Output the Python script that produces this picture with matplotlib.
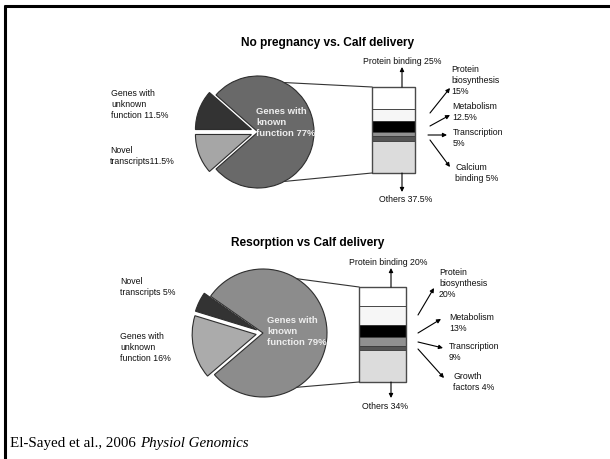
import numpy as np
import matplotlib.pyplot as plt
from matplotlib.patches import Rectangle

plt.rcParams['font.family'] = ['Liberation Sans', 'DejaVu Sans']

W, H = 610, 459

# No pregnancy vs. Calf delivery
top_title = "No pregnancy vs. Calf delivery"
top_pie_names = ["Genes with\nunknown\nfunction ", "Novel\ntranscripts", "Genes with\nknown\nfunction "]
top_pie_values = [11.5, 11.5, 77]
top_box_names = ["Protein binding ", "Protein\nbiosynthesis\n", "Metabolism\n",
                 "Transcription\n", "Calcium\nbinding ", "Others "]
top_box_values = [25, 15, 12.5, 5, 5, 37.5]

# Resorption vs Calf delivery
bot_title = "Resorption vs Calf delivery"
bot_pie_names = ["Novel\ntranscripts ", "Genes with\nunknown\nfunction ", "Genes with\nknown\nfunction "]
bot_pie_values = [5, 16, 79]
bot_box_names = ["Protein binding ", "Protein\nbiosynthesis\n", "Metabolism\n",
                 "Transcription\n", "Growth\nfactors ", "Others "]
bot_box_values = [20, 20, 13, 9, 4, 34]

box_colors = ['#ffffff', '#f6f6f6', '#000000', '#909090', '#555555', '#dcdcdc']

fig = plt.figure(figsize=(W / 100, H / 100), dpi=100)
ax = fig.add_axes([0, 0, 1, 1])

FS = 6.3


def pct(v):
    return f"{v:g}%"


def draw_pie(values, colors, start, center, r, gap=7):
    # y axis is flipped, so go clockwise in data to run counter-clockwise on screen;
    # explode is in data units here (pixels)
    ax.pie(values, colors=colors, startangle=-start, counterclock=False,
           center=center, radius=r, explode=[gap, gap, 0], frame=True,
           wedgeprops=dict(edgecolor='#2e2e2e', linewidth=0.8))


def rim(center, r, ang):
    a = np.radians(ang)
    return center[0] + r * np.cos(a), center[1] - r * np.sin(a)


def draw_box(values, x0, y0, w, h):
    heights = np.array(values) / 100 * h
    tops = y0 + np.concatenate([[0], np.cumsum(heights)[:-1]])
    ax.bar(x0 + w / 2, heights, bottom=tops, width=w, color=box_colors,
           edgecolor='#3a3a3a', linewidth=0.6)
    ax.add_patch(Rectangle((x0, y0), w, h, fill=False, edgecolor='#4a4a4a', lw=1.0))


def arrow(p0, p1):
    ax.annotate("", xy=p1, xytext=p0,
                arrowprops=dict(arrowstyle='-|>', color='black', lw=0.8,
                                mutation_scale=6, shrinkA=0, shrinkB=0))


def label(x, y, s, ha='left', color='#111111', weight='normal', size=FS):
    ax.text(x, y, s, ha=ha, va='top', fontsize=size, color=color,
            fontweight=weight, linespacing=1.3)


# ---------- top panel ----------
ax.text(328, 43, top_title, ha='center', va='center', fontsize=8.6, fontweight='bold')
c1, r1 = (258, 132), 56
draw_pie(top_pie_values, ['#333333', '#a6a6a6', '#696969'], 138.6, c1, r1)
label(111, 89, top_pie_names[0] + pct(top_pie_values[0]))
label(110, 146, top_pie_names[1] + pct(top_pie_values[1]))
label(256, 107, top_pie_names[2] + pct(top_pie_values[2]), color='#eeeeee',
      weight='bold', size=6.8)

bx1 = (372, 87, 43, 86)
ax.plot(*zip(rim(c1, r1, 62), (bx1[0], bx1[1])), color='#333333', lw=0.8)
ax.plot(*zip(rim(c1, r1, -62), (bx1[0], bx1[1] + bx1[3])), color='#333333', lw=0.8)
draw_box(top_box_values, *bx1)

label(402, 57, top_box_names[0] + pct(top_box_values[0]), ha='center')
arrow((402, 87), (402, 67))
label(406, 195, top_box_names[5] + pct(top_box_values[5]), ha='center')
arrow((402, 173), (402, 192))
label(451, 65, top_box_names[1] + pct(top_box_values[1]))
arrow((430, 113), (450, 88))
label(452, 102, top_box_names[2] + pct(top_box_values[2]))
arrow((430, 126), (450, 115))
label(453, 128, top_box_names[3] + pct(top_box_values[3]))
arrow((428, 135), (447, 135))
label(455, 163, top_box_names[4] + pct(top_box_values[4]))
arrow((430, 140), (450, 167))

# ---------- bottom panel ----------
ax.text(308, 243, bot_title, ha='center', va='center', fontsize=8.6, fontweight='bold')
c2, r2 = (263, 333), 64
draw_pie(bot_pie_values, ['#333333', '#ababab', '#8c8c8c'], 145, c2, r2)
label(120, 277, bot_pie_names[0] + pct(bot_pie_values[0]))
label(120, 332, bot_pie_names[1] + pct(bot_pie_values[1]))
label(267, 316, bot_pie_names[2] + pct(bot_pie_values[2]), color='#eeeeee',
      weight='bold', size=6.8)

bx2 = (359, 287, 47, 95)
ax.plot(*zip(rim(c2, r2, 58), (bx2[0], bx2[1])), color='#333333', lw=0.8)
ax.plot(*zip(rim(c2, r2, -58), (bx2[0], bx2[1] + bx2[3])), color='#333333', lw=0.8)
draw_box(bot_box_values, *bx2)

label(388, 258, bot_box_names[0] + pct(bot_box_values[0]), ha='center')
arrow((391, 287), (391, 268))
label(385, 402, bot_box_names[5] + pct(bot_box_values[5]), ha='center')
arrow((391, 382), (391, 398))
label(439, 268, bot_box_names[1] + pct(bot_box_values[1]))
arrow((418, 315), (434, 288))
label(449, 313, bot_box_names[2] + pct(bot_box_values[2]))
arrow((418, 333), (441, 319))
label(449, 342, bot_box_names[3] + pct(bot_box_values[3]))
arrow((418, 342), (443, 348))
label(453, 372, bot_box_names[4] + pct(bot_box_values[4]))
arrow((418, 349), (444, 378))

# citation and slide frame
t1 = ax.text(10, 443, "El-Sayed et al., 2006 ", ha='left', va='center',
             fontsize=10.8, family='Liberation Serif')
ax.annotate("Physiol Genomics", xy=(1, 0), xycoords=t1, ha='left', va='bottom',
            fontsize=10.8, family='Liberation Serif', style='italic')
ax.plot([3.5, W], [5.5, 5.5], color='black', lw=2.2, solid_capstyle='butt')
ax.plot([4.5, 4.5], [4.5, H], color='black', lw=2.2, solid_capstyle='butt')

ax.set_xlim(0, W)
ax.set_ylim(H, 0)
ax.set_aspect('auto')
ax.axis('off')

fig.savefig('out.png', dpi=100)
